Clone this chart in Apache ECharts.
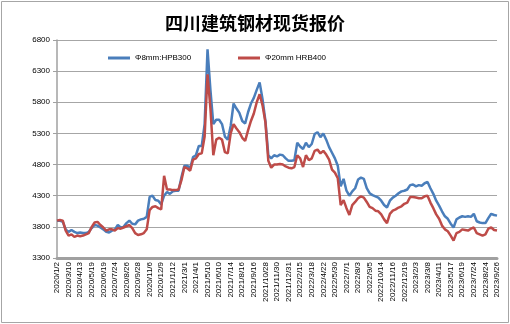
<!DOCTYPE html>
<html>
<head>
<meta charset="utf-8">
<script src="https://cdn.jsdelivr.net/npm/echarts@6/dist/echarts.min.js"></script>
<style>html,body{margin:0;padding:0;background:#fff}#c{width:510px;height:324px}</style>
</head>
<body>
<div id="c"></div>
<script>
const tickLabels = ["2020/1/2","2020/3/10","2020/4/13","2020/5/19","2020/6/19","2020/7/24","2020/8/26","2020/9/28","2020/11/6","2020/12/9","2021/1/12","2021/3/1","2021/4/1","2021/5/10","2021/6/10","2021/7/14","2021/8/16","2021/9/16","2021/10/28","2021/11/30","2021/12/31","2022/2/15","2022/3/18","2022/4/22","2022/5/30","2022/7/1","2022/8/3","2022/9/5","2022/10/14","2022/11/16","2022/12/19","2023/2/3","2023/3/8","2023/4/11","2023/5/17","2023/6/19","2023/7/24","2023/8/24","2023/9/26"];
const pointsPerLabel = 4;
const hpb300 = [3900,3900,3880,3760,3720,3750,3720,3700,3710,3700,3700,3720,3780,3830,3820,3790,3760,3720,3710,3740,3760,3830,3790,3800,3860,3900,3850,3840,3900,3920,3930,3960,4280,4300,4230,4220,4160,4300,4360,4330,4370,4380,4380,4600,4780,4780,4740,4920,4950,5100,5100,5450,6650,6000,5450,5520,5520,5450,5250,5200,5420,5780,5700,5630,5500,5460,5640,5780,5870,6000,6120,5850,5500,4950,4900,4950,4930,4960,4950,4900,4860,4860,4870,5150,5090,5050,5150,5080,5130,5290,5320,5240,5300,5200,5080,4990,4900,4780,4450,4570,4380,4300,4370,4420,4560,4590,4570,4420,4340,4310,4290,4270,4220,4150,4110,4220,4270,4300,4340,4370,4380,4400,4470,4480,4450,4470,4460,4500,4520,4420,4330,4220,4140,4050,3970,3930,3850,3790,3920,3950,3970,3960,3970,3960,4010,3890,3870,3860,3860,3940,4010,3990,3980];
const hrb400 = [3900,3910,3900,3740,3660,3680,3640,3660,3650,3660,3680,3700,3800,3870,3880,3830,3790,3740,3760,3760,3740,3780,3770,3790,3810,3830,3780,3700,3670,3680,3700,3760,4070,4120,4130,4100,4080,4620,4400,4400,4390,4390,4400,4550,4760,4740,4700,4880,4900,4970,4980,5250,6250,5700,4950,5200,5230,5200,5000,4980,5300,5450,5380,5320,5230,5180,5350,5500,5620,5800,5930,5750,5480,4860,4750,4800,4800,4810,4800,4770,4750,4740,4760,4950,4900,4760,4950,4870,4900,5020,5040,4980,5020,4960,4880,4720,4670,4580,4150,4230,4100,3990,4150,4200,4260,4290,4270,4200,4120,4100,4060,4050,4000,3920,3860,4010,4060,4080,4110,4130,4170,4190,4280,4280,4270,4260,4260,4290,4300,4190,4100,4000,3930,3820,3760,3730,3660,3580,3700,3720,3760,3750,3740,3770,3790,3700,3680,3660,3680,3770,3790,3750,3740];
const seriesNames = ["Φ8mm:HPB300", "Φ20mm HRB400"];

const categories = hpb300.map((_, i) => String(i));
const chart = echarts.init(document.getElementById('c'), null, {renderer: 'canvas'});
const labelFont = "'Liberation Sans', Arial, sans-serif";
const legendBase = {itemWidth: 22, itemHeight: 3, top: 49, itemGap: 4, icon: 'path://M0,0H22V3H0Z',
  textStyle: {fontFamily: labelFont, fontSize: 8, color: '#000'}};
chart.setOption({
  animation: false,
  backgroundColor: '#ffffff',
  title: {
    text: '四川建筑钢材现货报价',
    left: 'center',
    top: 9,
    textStyle: {fontFamily: "'Noto Sans CJK SC'", fontSize: 18, fontWeight: 'bold', color: '#000'}
  },
  legend: [
    Object.assign({data: [seriesNames[0]], left: 103}, legendBase),
    Object.assign({data: [seriesNames[1]], left: 233}, legendBase)
  ],
  graphic: [{type: 'rect', shape: {x: 1.5, y: 1.5, width: 507, height: 321}, style: {fill: 'none', stroke: '#a6a6a6', lineWidth: 1}, silent: true}],
  grid: {left: 57, right: 13, top: 40, bottom: 66, containLabel: false},
  xAxis: {
    type: 'category',
    data: categories,
    boundaryGap: false,
    axisLine: {lineStyle: {color: '#a0a0a0', width: 3}},
    axisTick: {show: false},
    axisLabel: {
      rotate: 90,
      interval: (idx) => idx % pointsPerLabel === 0,
      formatter: (v, idx) => tickLabels[Math.round(idx / pointsPerLabel)] || '',
      fontFamily: labelFont, fontSize: 8, color: '#000', margin: 4
    },
    splitLine: {show: false}
  },
  yAxis: {
    type: 'value',
    min: 3300, max: 6800, interval: 500,
    axisLine: {show: true, lineStyle: {color: '#a0a0a0', width: 1.5}},
    axisTick: {show: true, length: 4, lineStyle: {color: '#a0a0a0'}},
    axisLabel: {fontFamily: labelFont, fontSize: 8, color: '#000', margin: 7, formatter: (v) => String(v)},
    splitLine: {lineStyle: {color: '#a6a6a6', width: 1}}
  },
  series: [
    {name: seriesNames[0], type: 'line', data: hpb300, showSymbol: false, symbol: 'none',
     lineStyle: {color: '#4a7ebb', width: 2.5}, itemStyle: {color: '#4a7ebb'}},
    {name: seriesNames[1], type: 'line', data: hrb400, showSymbol: false, symbol: 'none',
     lineStyle: {color: '#be4b48', width: 2.5}, itemStyle: {color: '#be4b48'}}
  ]
});
</script>
</body>
</html>
